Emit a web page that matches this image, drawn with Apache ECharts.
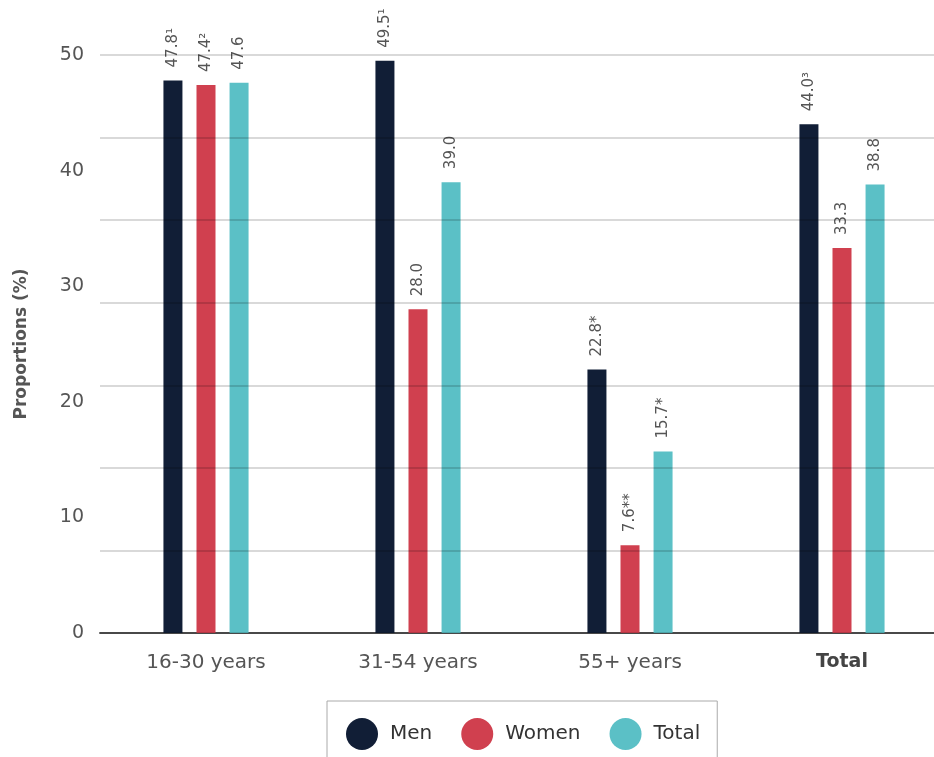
<!DOCTYPE html>
<html>
<head>
<meta charset="utf-8">
<script src="https://cdn.jsdelivr.net/npm/echarts@6/dist/echarts.min.js"></script>
<style>
  html, body { margin: 0; padding: 0; background: #fff; }
  #chart { width: 934px; height: 757px; }
</style>
</head>
<body>
<div id="chart"></div>
<script>
// categories and values
const categories = ['16-30 years', '31-54 years', '55+ years', 'Total'];
const menValues = [47.8, 49.5, 22.8, 44.0];
const womenValues = [47.4, 28.0, 7.6, 33.3];
const totalValues = [47.6, 39.0, 15.7, 38.8];
// label texts incl. footnote marks
const menLabels = ['47.8¹', '49.5¹', '22.8*', '44.0³'];
const womenLabels = ['47.4²', '28.0', '7.6**', '33.3'];
const totalLabels = ['47.6', '39.0', '15.7*', '38.8'];

const FONT = 'DejaVu Sans';

const chart = echarts.init(document.getElementById('chart'));

const barLabel = (texts) => ({
  show: true,
  position: 'top',
  rotate: 90,
  align: 'left',
  verticalAlign: 'middle',
  distance: 13,
  color: '#555',
  fontSize: 15,
  fontFamily: FONT,
  formatter: (p) => texts[p.dataIndex]
});

const makeSeries = (name, values, labels, color) => ({
  name: name,
  type: 'bar',
  yAxisIndex: 0,
  data: values,
  barWidth: 19,
  barGap: '74%',
  itemStyle: { color: color },
  label: barLabel(labels)
});

const option = {
  animation: false,
  textStyle: { fontFamily: FONT },
  // plot runs past the right edge of the window, as in the original
  grid: { left: 100, top: 55, width: 848, bottom: 124, containLabel: false, outerBoundsMode: 'none' },
  legend: {
    bottom: -20,
    left: 327,
    icon: 'circle',
    itemWidth: 32,
    itemHeight: 32,
    itemGap: 29,
    borderColor: '#aaa',
    borderWidth: 1,
    padding: [17, 17, 27, 19],
    textStyle: { fontSize: 20, color: '#333', fontFamily: FONT, padding: [0, 0, 0, 7] },
    data: ['Men', 'Women', 'Total']
  },
  xAxis: {
    type: 'category',
    data: categories,
    axisLine: { lineStyle: { color: '#555', width: 2 } },
    axisTick: { show: false },
    axisLabel: {
      fontSize: 20,
      color: '#555',
      margin: 20,
      fontFamily: FONT,
      formatter: (v) => v === 'Total' ? '{b|' + v + '}' : v,
      rich: { b: { fontWeight: 'bold', fontSize: 19, color: '#444', fontFamily: FONT } }
    }
  },
  yAxis: [
    {
      type: 'value',
      min: 0,
      max: 50,
      interval: 10,
      name: 'Proportions (%)',
      nameLocation: 'middle',
      nameGap: 70,
      nameTextStyle: { fontSize: 17, fontWeight: 'bold', color: '#555', fontFamily: FONT },
      axisLine: { show: false },
      axisTick: { show: false },
      splitLine: { show: false },
      axisLabel: { fontSize: 19, color: '#555', margin: 16, fontFamily: FONT }
    },
    {
      // gridlines split 0-50 into seven bands, independent of labels
      type: 'value',
      position: 'left',
      min: 0,
      max: 50,
      interval: 50 / 7,
      z: 5,
      axisLine: { show: false },
      axisTick: { show: false },
      axisLabel: { show: false },
      splitLine: { lineStyle: { color: 'rgba(0,0,0,0.2)', width: 1.5 } }
    }
  ],
  series: [
    makeSeries('Men', menValues, menLabels, '#111e36'),
    makeSeries('Women', womenValues, womenLabels, '#d0404f'),
    makeSeries('Total', totalValues, totalLabels, '#5bc0c6')
  ]
};

chart.setOption(option);
</script>
</body>
</html>
